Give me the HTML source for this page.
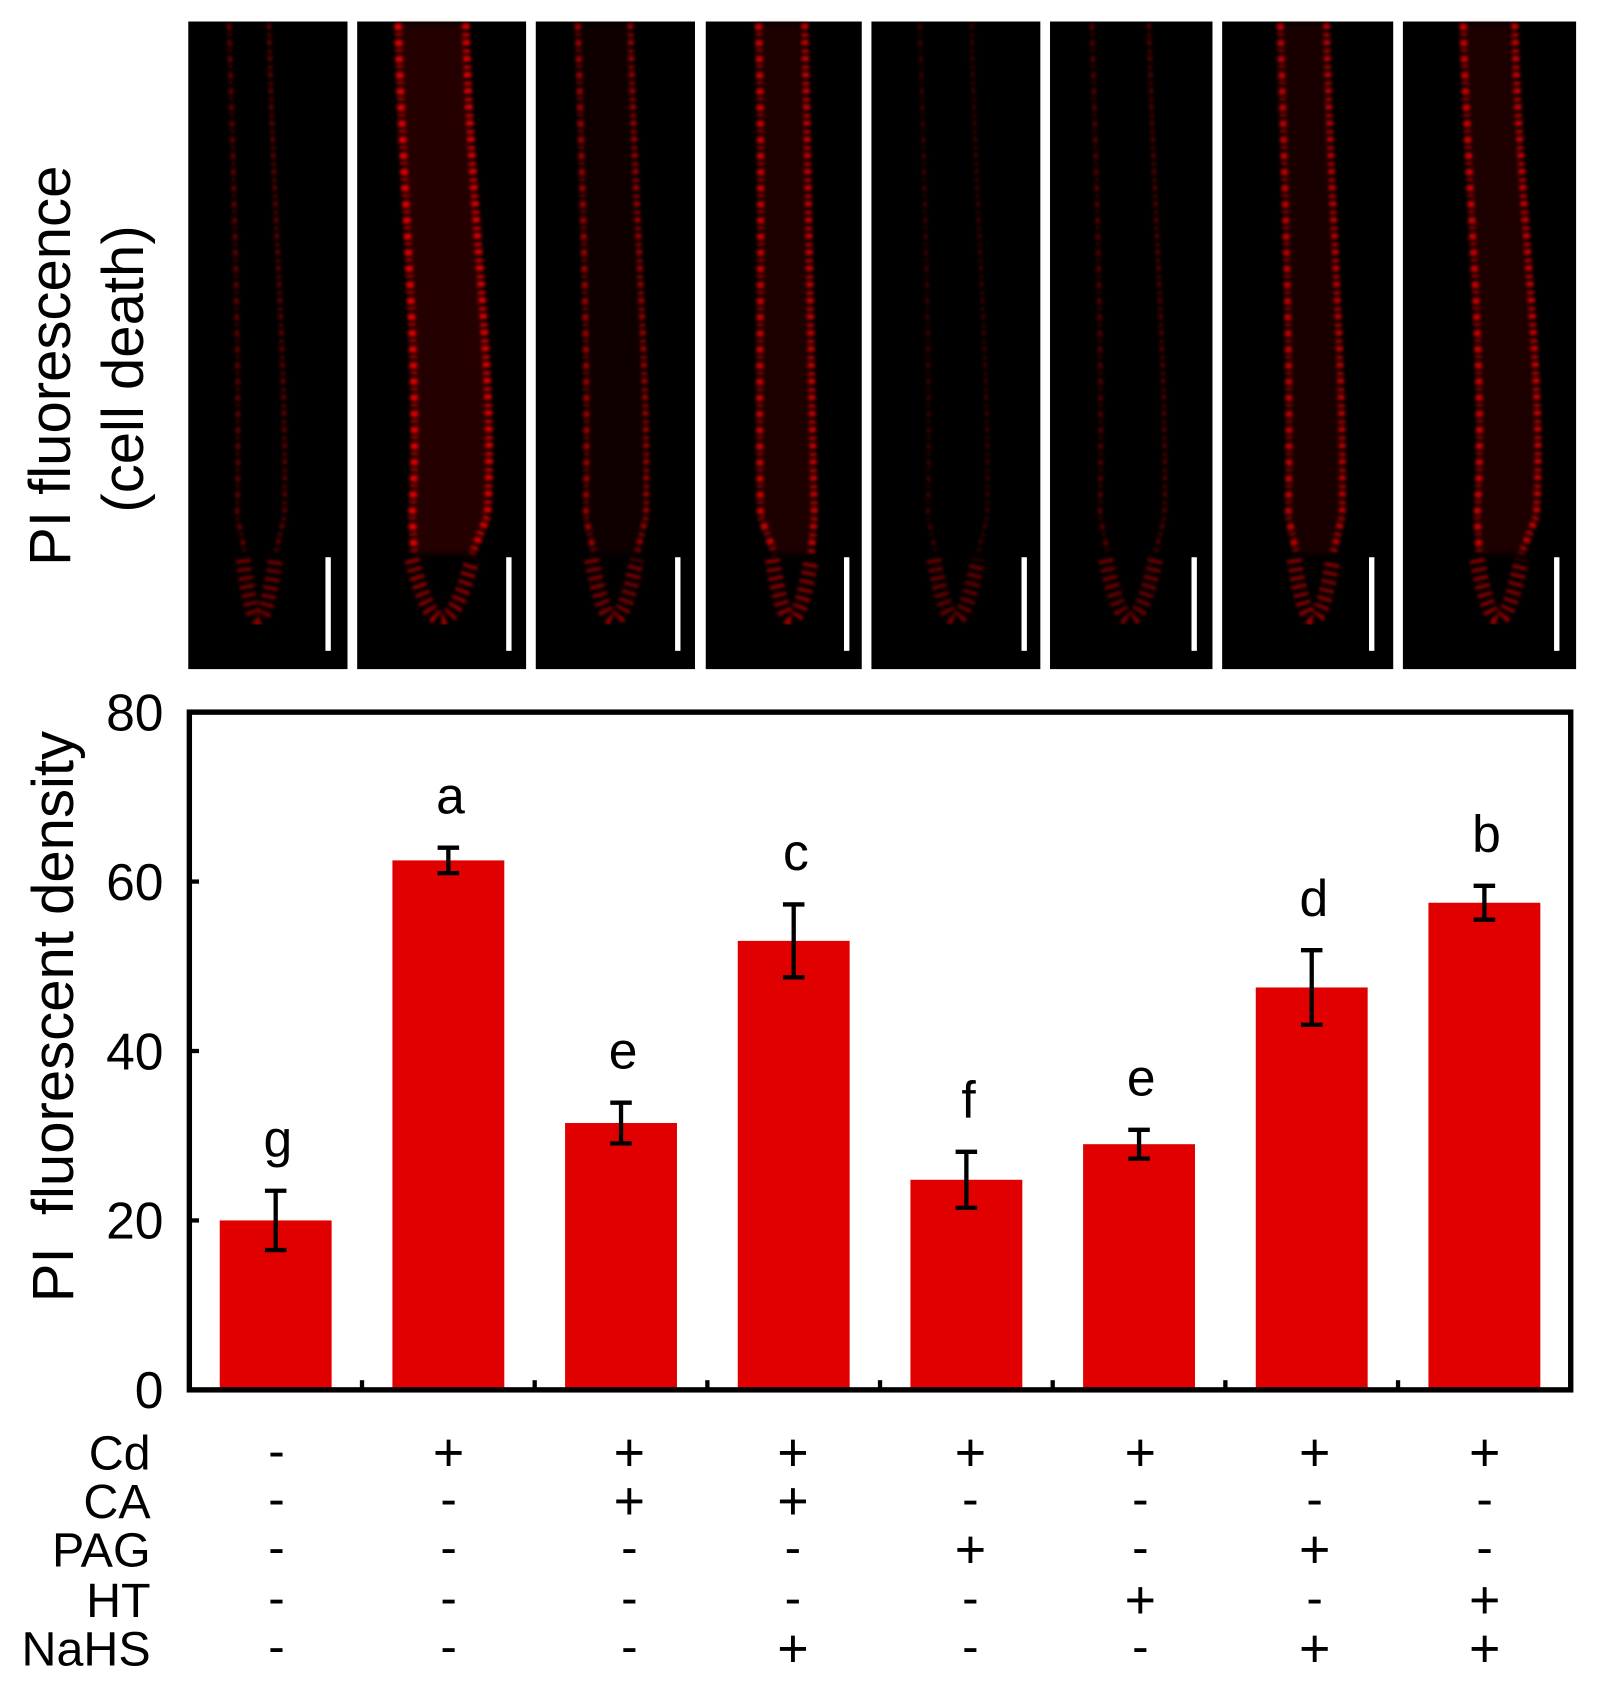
<!DOCTYPE html>
<html><head><meta charset="utf-8"><style>
html,body{margin:0;padding:0;background:#fff;}
svg{display:block;}
text{font-family:"Liberation Sans",Arial,sans-serif;fill:#000;}
</style></head><body>
<svg id="fig" width="1603" height="1690" viewBox="0 0 1490 1571" preserveAspectRatio="none" xmlns="http://www.w3.org/2000/svg">
<defs>
<filter id="blur1" x="-50%" y="-10%" width="200%" height="120%"><feGaussianBlur stdDeviation="3"/></filter>
<filter id="blur2" x="-50%" y="-10%" width="200%" height="120%"><feGaussianBlur stdDeviation="1.5"/></filter>
</defs>
<g id="panels"></g>
<text transform="translate(65,340) rotate(-90)" text-anchor="middle" font-size="54">PI fluorescence</text>
<text transform="translate(133,343) rotate(-90)" text-anchor="middle" font-size="54">(cell death)</text>
<g id="chart"></g>
<text transform="translate(68,945) rotate(-90)" text-anchor="middle" font-size="54" xml:space="preserve">PI  fluorescent density</text>
<g id="table"></g>
</svg>
<script>
const categories=["control","Cd","Cd+CA","Cd+CA+NaHS","Cd+PAG","Cd+HT","Cd+PAG+NaHS","Cd+HT+NaHS"];
const values=[20,62.5,31.5,53,24.8,29,47.5,57.5];
const errors=[3.5,1.5,2.4,4.3,3.3,1.7,4.4,2];
const letters=["g","a","e","c","f","e","d","b"];
const yTicks=[0,20,40,60,80];
const rowLabels=["Cd","CA","PAG","HT","NaHS"];
const signs=[
 ["-","+","+","+","+","+","+","+"],
 ["-","-","+","+","-","-","-","-"],
 ["-","-","-","-","+","-","+","-"],
 ["-","-","-","-","-","+","-","+"],
 ["-","-","-","+","-","-","+","+"]];

const NS="http://www.w3.org/2000/svg";
function mk(tag,attrs,parent){const e=document.createElementNS(NS,tag);for(const k in attrs)e.setAttribute(k,attrs[k]);parent.appendChild(e);return e;}

const X0=176,X1=1460,Y0=1292,Y1=662,YMAX=80;
const band=(X1-X0)/categories.length;
const xc=i=>X0+band*(i+0.5);
const y=v=>Y0-(v/YMAX)*(Y0-Y1);
const barW=104;
const chart=document.getElementById('chart');
categories.forEach((c,i)=>{
  const r=mk('rect',{x:xc(i)-barW/2,y:y(values[i]),width:barW,height:Y0-y(values[i]),fill:'#e00000'},chart);
  
  
  const g=mk('g',{stroke:'#000','stroke-width':4,fill:'none'},chart);
  
  
  const hi=y(values[i]+errors[i]),lo=y(values[i]-errors[i]),cx=xc(i);
  mk('line',{x1:cx,x2:cx,y1:hi,y2:lo},g);
  mk('line',{x1:cx-10,x2:cx+10,y1:hi,y2:hi},g);
  mk('line',{x1:cx-10,x2:cx+10,y1:lo,y2:lo},g);
  const t=mk('text',{x:cx+2,y:hi-32,'text-anchor':'middle','font-size':48},chart);
  t.textContent=letters[i];
  
  
});
yTicks.forEach(v=>{
  const l=mk('line',{x1:X0,x2:X0+9,y1:y(v),y2:y(v),stroke:'#000','stroke-width':4},chart);
  
  
  const t=mk('text',{x:152,y:y(v)+17,'text-anchor':'end','font-size':48},chart);
  t.textContent=v;
  
  
});
for(let i=1;i<categories.length;i++){
  const l=mk('line',{x1:X0+band*i,x2:X0+band*i,y1:Y0,y2:Y0-9,stroke:'#000','stroke-width':4},chart);
  
  
}
const frame=mk('rect',{x:X0,y:Y1,width:X1-X0,height:Y0-Y1,fill:'none',stroke:'#000','stroke-width':5},chart);



const tbl=document.getElementById('table');
const rowY=[1350,1395,1440,1487,1532];
const colX=[257,417,585,737,902,1060,1222,1380];
rowLabels.forEach((r,ri)=>{
  const t=mk('text',{x:140,y:rowY[ri]+16,'text-anchor':'end','font-size':45},tbl);
  t.textContent=r;
  
  
  signs[ri].forEach((s,ci)=>{
    const u=mk('text',{x:colX[ci],y:rowY[ri]+(s==='+'?17:14),'text-anchor':'middle','font-size':s==='+'?50:46},tbl);
    u.textContent=s;
    
    
  });
});

const panelX=[[175,323],[332,489],[498,646],[656,801],[810,967],[976,1127],[1136,1295],[1304,1465]];
const rootX=[[218,262],[375,445],[542,598],[710,760],[860,915],[1020,1080],[1195,1245],[1365,1420]];
const strength=[0.45,1,0.7,0.9,0.3,0.4,0.85,0.9];
const scaleX=[305,473,630,787,952,1110,1275,1447];
const panels=document.getElementById('panels');
panelX.forEach((p,i)=>{
  const g=mk('g',{},panels);
  
  
  mk('rect',{x:p[0],y:20,width:p[1]-p[0],height:602,fill:'#000'},g);
  const [a,b]=rootX[i],s=strength[i],m=(a+b)/2;
  const bend=(i===1||i===7)?16:(i===3?-6:5);
  const dl=`M${a-5},22 C${a},200 ${a+bend},350 ${a+bend*0.5},480 L${a+10},515`;
  const dr=`M${b-12},22 C${b-8},200 ${b+bend},350 ${b+bend*0.5},480 L${b-6},515`;
  if(s>0.6){
    mk('path',{d:`M${a-5},22 C${a},200 ${a+bend},350 ${a+bend*0.5},480 L${a+10},515 L${b-6},515 L${b+bend*0.5},480 C${b+bend},350 ${b-8},200 ${b-12},22 Z`,fill:'#900000',opacity:(s-0.5)*0.5,filter:'url(#blur1)'},g);
  }
  mk('path',{d:dl,stroke:'#e00000','stroke-width':5*s+2,fill:'none',opacity:s,'stroke-dasharray':'6 3 2 4',filter:'url(#blur2)'},g);
  mk('path',{d:dr,stroke:'#e00000','stroke-width':5*s+2,fill:'none',opacity:s,'stroke-dasharray':'5 4 3 3',filter:'url(#blur2)'},g);
  mk('path',{d:`M${a+8},520 Q${m},630 ${b-6},520`,fill:'none',stroke:'#d00000','stroke-width':14,'stroke-dasharray':'3 5',opacity:0.5+0.3*s,filter:'url(#blur2)'},g);
  const sb=mk('rect',{x:scaleX[i]-2.5,y:518,width:5,height:87,fill:'#fff'},g);
  
  
});
</script>
</body></html>
